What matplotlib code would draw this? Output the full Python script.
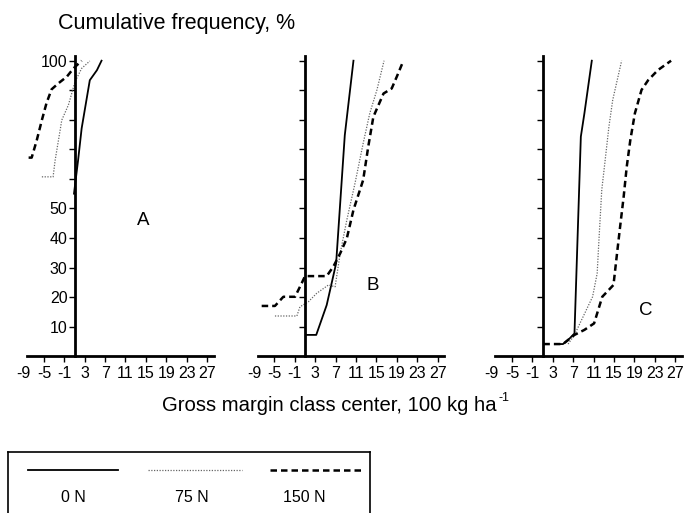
import numpy as np
from matplotlib import pyplot as plt

plt.rcParams['font.family'] = ['Liberation Sans', 'DejaVu Sans']
plt.rcParams['axes.unicode_minus'] = False

#Data (gross margin, cumulative frequency %)

xticks = [-9, -5, -1, 3, 7, 11, 15, 19, 23, 27]
yticks = [10, 20, 30, 40, 50, 60, 70, 80, 90, 100]
ylabels_A = ["10", "20", "30", "40", "50", "", "", "", "", "100"]

A_0N_x = [0.9, 1.7, 2.4, 4.0, 5.4, 6.3]
A_0N_y = [55.0, 66.3, 77.1, 93.4, 96.8, 100.0]
A_75N_x = [-5.4, -3.2, -2.8, -1.8, -1.5, -0.2, 0.45, 1.1, 2.4, 4.0]
A_75N_y = [60.7, 60.7, 66.3, 76.7, 79.9, 85.0, 88.9, 92.9, 97.4, 99.9]
A_150N_x = [-8.0, -7.4, -6.4, -5.4, -4.5, -3.5, -2.2, -0.5, 0.8, 2.4]
A_150N_y = [67.2, 67.2, 73.1, 79.9, 85.6, 90.3, 92.3, 94.6, 97.4, 100.0]

B_0N_x = [1.2, 3.2, 5.25, 7.1, 8.8, 10.5]
B_0N_y = [7.2, 7.2, 17.3, 31.4, 74.8, 100.0]
B_75N_x = [-4.9, -0.6, 0.0, 1.65, 3.3, 5.6, 6.9, 7.9, 9.2, 10.8, 12.4, 13.7, 15.1, 16.5]
B_75N_y = [13.6, 13.6, 16.7, 18.4, 21.3, 24.1, 23.5, 34.8, 46.1, 58.5, 72.0, 82.2, 90.1, 100.0]
B_150N_x = [-7.5, -4.9, -3.25, -0.96, 0.35, 1.0, 5.25, 6.55, 7.9, 9.2, 10.5, 12.4, 13.4,
            14.4, 16.4, 18.0, 19.0, 20.3]
B_150N_y = [17.0, 17.0, 20.1, 20.1, 24.7, 27.1, 27.1, 30.3, 34.8, 39.9, 49.5, 59.6, 70.9,
            81.0, 88.9, 90.6, 94.6, 100.0]

C_0N_x = [3.6, 5.0, 6.3, 7.25, 8.5, 9.2, 10.65]
C_0N_y = [4.1, 4.1, 6.0, 7.7, 74.3, 82.2, 100.0]
C_75N_x = [6.0, 7.25, 10.8, 11.7, 12.05, 12.6, 13.2, 14.0, 14.75, 16.5]
C_75N_y = [4.1, 7.2, 20.1, 28.0, 39.3, 56.2, 65.3, 77.6, 86.7, 100.0]
C_150N_x = [1.15, 5.0, 7.25, 9.2, 11.1, 12.7, 14.9, 15.6, 16.2, 16.9, 17.5, 18.2, 19.1,
            20.4, 21.7, 23.6, 26.2]
C_150N_y = [4.1, 4.1, 7.2, 8.9, 11.1, 20.1, 24.1, 34.8, 43.8, 54.0, 64.1, 73.1, 82.2,
            90.1, 93.4, 96.8, 100.0]

panels = [
    ("A", [A_0N_x, A_75N_x, A_150N_x], [A_0N_y, A_75N_y, A_150N_y], (14.4, 46)),
    ("B", [B_0N_x, B_75N_x, B_150N_x], [B_0N_y, B_75N_y, B_150N_y], (14.3, 24)),
    ("C", [C_0N_x, C_75N_x, C_150N_x], [C_0N_y, C_75N_y, C_150N_y], (21.3, 15.6)),
]

styles = [dict(c='k', ls='-', lw=1.3),
          dict(c='0.4', ls=(0, (1, 1.2)), lw=0.9),
          dict(c='k', ls=(0, (2.6, 1.6)), lw=1.8)]

fig = plt.figure(figsize=(7, 5.13), dpi=100)

lefts = [0.0336, 0.3629, 0.7023]
for i, (name, xs, ys, lpos) in enumerate(panels):
    ax = fig.add_axes([lefts[i], 0.3057, 0.2717, 0.5846])
    for x, y, st in zip(xs, ys, styles):
        ax.plot(x, y, **st)
    ax.set_xlim(-9, 28.3)
    ax.set_ylim(0, 101.5)
    for s in ["top", "right"]:
        ax.spines[s].set_visible(False)
    ax.spines["left"].set_position(("data", 1))
    ax.spines["left"].set_linewidth(2)
    ax.spines["bottom"].set_linewidth(2)
    ax.spines["bottom"].set_bounds(-8.3, 28.3)
    ax.set_xticks(xticks)
    ax.set_xticklabels([str(t) for t in xticks], fontsize=11.5)
    ax.xaxis.get_major_ticks()[0].tick1line.set_visible(False)
    ax.set_yticks(yticks)
    if i == 0:
        ax.set_yticklabels(ylabels_A, fontsize=11.5)
    else:
        ax.set_yticklabels([])
    ax.tick_params(axis='both', direction='out', length=4, width=1, pad=3)
    ax.tick_params(axis='y', pad=1)
    ax.text(lpos[0], lpos[1], name, fontsize=13.5, ha='center', va='center')

fig.text(0.252, 0.955, "Cumulative frequency, %", fontsize=15.5, ha='center', va='center')
xl = fig.text(162/700, 0.2086, "Gross margin class center, 100 kg ha", fontsize=14.6,
              ha='left', va='center')
r = fig.canvas.get_renderer()
bb = xl.get_window_extent(renderer=r)
fig.text((bb.x1 + 2)/700, (bb.y1 - 2)/513, "-1", fontsize=9, ha='left', va='center')

#legend box, bottom cut off by the figure edge
lg = fig.add_axes([8.3/700, 0, (370-8.3)/700, (513-451.7)/513])
lg.set_xlim(0, 1)
lg.set_ylim(0, 1)
lg.set_xticks([])
lg.set_yticks([])
lg.spines["bottom"].set_visible(False)
for s in ["top", "left", "right"]:
    lg.spines[s].set_linewidth(1.2)
names = ["0 N", "75 N", "150 N"]
segs = [(0.054, 0.303), (0.386, 0.646), (0.723, 0.978)]
name_x = [0.179, 0.508, 0.8175]
for (a, b), st, nm, tx in zip(segs, styles, names, name_x):
    lg.plot([a, b], [0.7, 0.7], **st)
    lg.text(tx, 0.25, nm, fontsize=11.5, ha='center', va='center')

plt.savefig("out.png", dpi=100)
